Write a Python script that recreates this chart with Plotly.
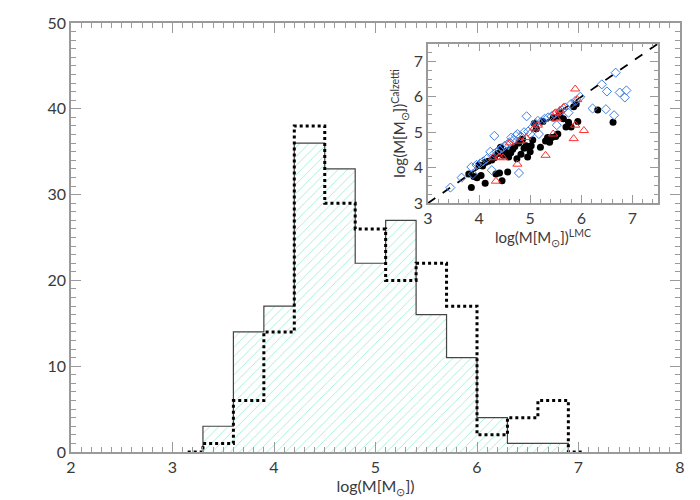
"""
Mass histogram (solid/hatched vs dotted) with an inset comparing
Calzetti vs LMC extinction mass estimates.
"""

import plotly.graph_objects as go

# Histogram bins (log mass), width 0.3
bin_edges = [3.3, 3.6, 3.9, 4.2, 4.5, 4.8, 5.1, 5.4, 5.7, 6.0, 6.3, 6.6, 6.9]
counts_solid = [3, 14, 17, 36, 33, 22, 27, 16, 11, 4, 1, 1]
counts_dotted = [1, 6, 14, 38, 29, 26, 20, 22, 17, 2, 4, 6]

# Inset: log M (LMC) vs log M (Calzetti)
circ_x = [3.80, 3.85, 3.90, 3.96, 4.04, 4.12, 4.00, 4.07, 4.12, 4.18, 4.25, 4.30,
          4.33, 4.40, 4.45, 4.37, 4.42, 4.47, 4.52, 4.56, 4.58, 4.62, 4.66, 4.70,
          4.74, 4.78, 4.82, 4.85, 4.88, 4.92, 4.95, 4.97, 5.00, 5.02, 5.05, 5.08,
          5.12, 5.20, 5.25, 5.30, 5.34, 5.38, 5.42, 5.45, 5.50, 5.54, 5.58, 5.65,
          5.70, 5.75, 5.80, 5.85, 5.90, 5.93, 6.32, 6.62, 5.55]
circ_y = [3.82, 3.44, 3.75, 3.72, 3.78, 3.56, 4.08, 4.05, 4.15, 4.18, 4.22, 4.28,
          3.82, 3.85, 3.63, 4.40, 4.58, 4.35, 4.45, 3.88, 4.30, 4.42, 4.52, 4.60,
          4.25, 4.70, 4.38, 4.80, 4.55, 4.62, 4.30, 4.58, 4.45, 4.62, 4.78, 5.25,
          5.10, 4.58, 5.30, 4.75, 4.85, 4.72, 4.85, 5.40, 4.88, 4.95, 5.52, 5.38,
          5.15, 5.28, 5.15, 5.72, 5.80, 5.30, 5.63, 5.28, 5.45]

diam_x = [3.44, 3.66, 3.85, 3.88, 3.95, 4.02, 4.08, 4.15, 4.22, 4.25, 4.30, 4.30,
          4.35, 4.40, 4.45, 4.50, 4.55, 4.60, 4.63, 4.68, 4.72, 4.78, 4.75, 4.82,
          4.88, 4.93, 4.96, 5.00, 5.05, 5.10, 5.15, 5.17, 5.22, 5.28, 5.35, 5.42,
          5.48, 5.52, 5.58, 5.62, 5.68, 5.75, 5.80, 5.88, 5.98, 6.22, 6.40, 6.48,
          6.50, 6.67, 6.64, 6.75, 6.85, 6.88]
diam_y = [3.44, 3.72, 4.02, 3.82, 4.08, 4.12, 4.18, 4.25, 4.45, 3.93, 4.90, 4.40,
          4.45, 4.50, 4.55, 4.62, 4.65, 4.72, 4.85, 4.78, 4.90, 3.85, 4.95, 4.88,
          5.00, 5.45, 5.02, 4.95, 5.15, 5.25, 5.32, 4.95, 5.30, 5.38, 5.42, 5.45,
          5.52, 5.20, 5.58, 5.62, 5.70, 5.55, 5.80, 5.88, 6.00, 5.67, 6.35, 5.65,
          6.15, 6.68, 5.48, 6.12, 5.98, 6.18]

tri_x = [4.27, 4.33, 4.40, 4.47, 4.60, 4.75, 4.80, 4.92, 5.08, 5.15, 5.30, 5.45,
         5.52, 5.58, 5.65, 5.85, 5.88, 5.88, 5.92, 6.05, 5.50]
tri_y = [4.28, 3.62, 4.30, 4.28, 4.70, 4.10, 4.75, 4.85, 5.12, 5.20, 4.35, 4.95,
         5.38, 5.62, 5.70, 4.82, 5.20, 6.22, 5.92, 5.05, 5.55]

one_to_one = [3.0, 7.5]

FONT = "Lato"
AXIS_GRAY = "#9a9a9a"
TEXT_GRAY = "#3a3a3a"
HATCH = "#3ee0a2"


def step_xy(edges, counts, lead=None, tail=None):
    """Build x/y for an hv step outline that drops to zero at both ends."""
    xs = [edges[0]] + edges[:-1] + [edges[-1], edges[-1]]
    ys = [0] + counts + [counts[-1], 0]
    if lead is not None:
        xs = [lead] + xs
        ys = [0] + ys
    if tail is not None:
        xs = xs + [tail]
        ys = ys + [0]
    return xs, ys


fig = go.Figure()

# Hatched fill of the solid histogram
centers = [(a + b) / 2 for a, b in zip(bin_edges[:-1], bin_edges[1:])]
fig.add_trace(
    go.Bar(
        x=centers,
        y=counts_solid,
        width=0.3,
        marker=dict(
            color="white",
            line=dict(width=0),
            pattern=dict(shape="/", fgcolor=HATCH, bgcolor="white", size=6.5, solidity=0.14),
        ),
        showlegend=False,
        hoverinfo="skip",
    )
)

# Solid outline
sx, sy = step_xy(bin_edges, counts_solid)
fig.add_trace(
    go.Scatter(x=sx, y=sy, mode="lines", line=dict(color="#444444", width=1.2, shape="hv"),
               showlegend=False)
)

# Dotted histogram
dx, dy = step_xy(bin_edges, counts_dotted, lead=3.15, tail=7.05)
fig.add_trace(
    go.Scatter(x=dx, y=dy, mode="lines",
               line=dict(color="black", width=3, shape="hv", dash="dot"),
               showlegend=False)
)

# Inset
fig.add_trace(
    go.Scatter(x=one_to_one, y=one_to_one, mode="lines", xaxis="x2", yaxis="y2",
               line=dict(color="black", width=1.8, dash="dash"), showlegend=False)
)
fig.add_trace(
    go.Scatter(x=circ_x, y=circ_y, mode="markers", xaxis="x2", yaxis="y2",
               marker=dict(symbol="circle", size=7, color="black"), showlegend=False)
)
fig.add_trace(
    go.Scatter(x=diam_x, y=diam_y, mode="markers", xaxis="x2", yaxis="y2",
               marker=dict(symbol="diamond-open", size=7, color="#3f7fe6",
                           line=dict(width=1)), showlegend=False)
)
fig.add_trace(
    go.Scatter(x=tri_x, y=tri_y, mode="markers", xaxis="x2", yaxis="y2",
               marker=dict(symbol="triangle-up-open", size=8, color="#ff3030",
                           line=dict(width=1)), showlegend=False)
)

axis_common = dict(
    showline=True,
    linecolor=AXIS_GRAY,
    linewidth=1.5,
    mirror="ticks",
    ticks="inside",
    tickcolor=AXIS_GRAY,
    showgrid=False,
    zeroline=False,
    ticklabeloverflow="allow",
    tickfont=dict(family=FONT, size=16, color=TEXT_GRAY),
)

fig.update_layout(
    width=700,
    height=500,
    margin=dict(l=63, r=28, t=5, b=56),
    paper_bgcolor="white",
    plot_bgcolor="white",
    bargap=0,
    font=dict(family=FONT, color=TEXT_GRAY),
    xaxis=dict(
        **axis_common,
        range=[2, 8],
        dtick=1,
        ticklen=10,
        minor=dict(dtick=0.1, ticks="inside", ticklen=5, tickcolor=AXIS_GRAY),
        title=dict(text="log(M[M<sub>⊙</sub>])", font=dict(family=FONT, size=16, color=TEXT_GRAY),
                   standoff=6),
    ),
    yaxis=dict(
        **axis_common,
        range=[0, 50],
        dtick=10,
        ticklen=10,
        minor=dict(dtick=1, ticks="inside", ticklen=5, tickcolor=AXIS_GRAY),
    ),
    xaxis2=dict(
        **axis_common,
        domain=[0.586, 0.964],
        anchor="y2",
        range=[3, 7.5],
        dtick=1,
        ticklen=8,
        minor=dict(dtick=0.2, ticks="inside", ticklen=4, tickcolor=AXIS_GRAY),
        title=dict(text="log(M[M<sub>⊙</sub>])<sup>LMC</sup>",
                   font=dict(family=FONT, size=15, color=TEXT_GRAY), standoff=2),
    ),
    yaxis2=dict(
        **axis_common,
        domain=[0.580, 0.952],
        anchor="x2",
        range=[3, 7.5],
        dtick=1,
        ticklen=8,
        minor=dict(dtick=0.25, ticks="inside", ticklen=4, tickcolor=AXIS_GRAY),
        title=dict(text="log(M[M<sub>⊙</sub>])<sup>Calzetti</sup>",
                   font=dict(family=FONT, size=15, color=TEXT_GRAY), standoff=4),
    ),
)

fig.write_html("out.html")
